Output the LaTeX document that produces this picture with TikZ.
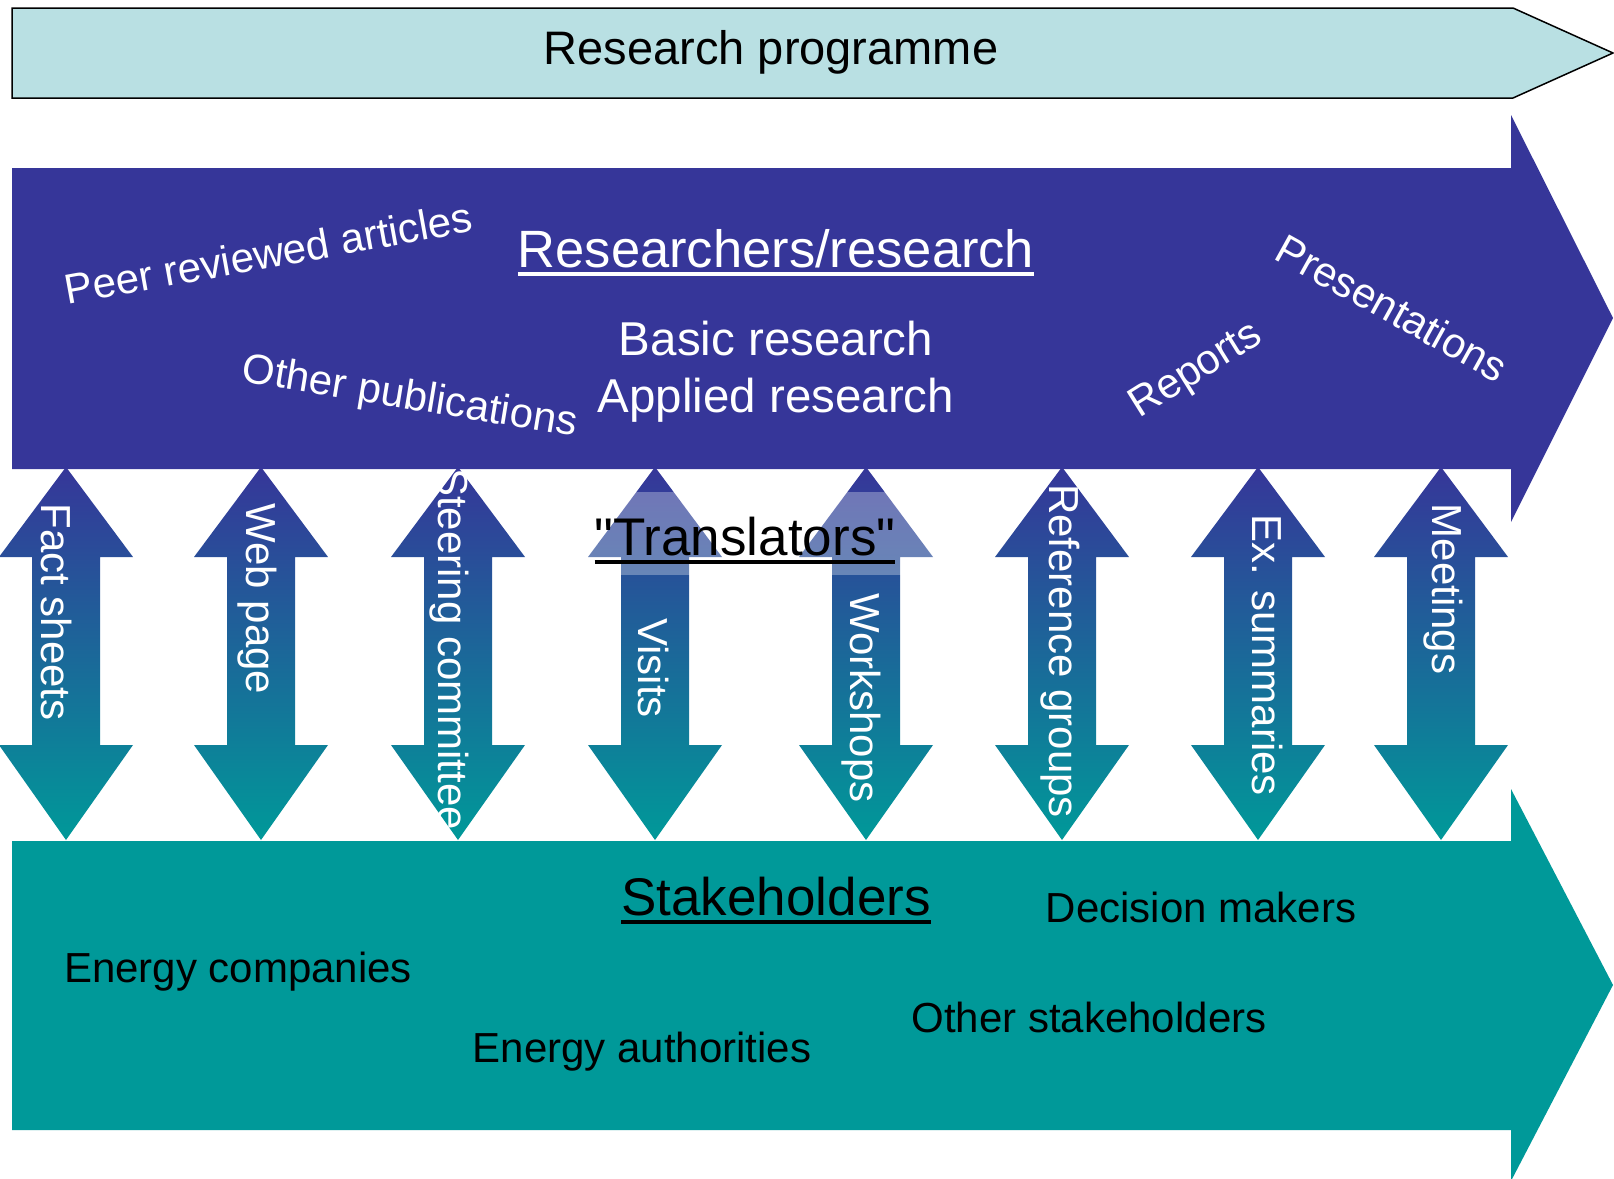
\documentclass[tikz,border=0pt]{standalone}
\usepackage{fontspec}
\setmainfont{Liberation Sans}
\definecolor{resblue}{RGB}{54,54,153}
\definecolor{stakteal}{RGB}{0,153,153}
\definecolor{progcyan}{RGB}{185,224,227}
\newcommand{\ulinetext}[1]{\setbox0=\hbox{#1}\rlap{\vrule height -5pt depth 9pt width \wd0}\box0}

\begin{document}
\begin{tikzpicture}[x=1pt, y=1pt,
    lbl/.style={inner sep=0pt, font=\fontsize{42}{50}\selectfont},
    wlbl/.style={lbl, text=white},
    vlbl/.style={wlbl, rotate=-90, anchor=base},
    twoway/.style={top color=resblue, bottom color=stakteal}]
  \useasboundingbox (0,0) rectangle (1614,-1178);
  % Top: research programme band
  \draw[line width=1.5pt, fill=progcyan] (12,-8) -- (1513,-8) -- (1613,-53) -- (1513,-98) -- (12,-98) -- cycle;
  \node[lbl, anchor=base, font=\fontsize{47}{56}\selectfont] (prog) at (771,-64) {Research programme};
  % Researchers arrow
  \fill[resblue] (12,-168) -- (1511,-168) -- (1511,-115) -- (1613,-318) -- (1511,-522) -- (1511,-469) -- (12,-469) -- cycle;
  \node[wlbl, anchor=base, font=\fontsize{52.5}{60}\selectfont] (resr) at (776,-267) {\ulinetext{Researchers/research}};
  \node[wlbl, anchor=base, font=\fontsize{47.5}{57}\selectfont] (basic) at (776,-355) {Basic research};
  \node[wlbl, anchor=base, font=\fontsize{47.5}{57}\selectfont] (applied) at (776,-412) {Applied research};
  \node[wlbl, anchor=base, rotate=10.3] (peer) at (271,-268) {Peer reviewed articles};
  \node[wlbl, anchor=base, rotate=-9.3] (otherpub) at (408,-409) {Other publications};
  \node[wlbl, anchor=base, rotate=32] (reports) at (1202,-380) {Reports};
  \node[wlbl, anchor=base, rotate=-29] (pres) at (1385,-321) {Presentations};
  % Stakeholders arrow
  \fill[stakteal] (12,-841) -- (1511,-841) -- (1511,-789) -- (1613,-985) -- (1511,-1181) -- (1511,-1130) -- (12,-1130) -- cycle;
  \node[lbl, anchor=base, font=\fontsize{53}{62}\selectfont] (stake) at (776,-915) {\ulinetext{Stakeholders}};
  \node[lbl, anchor=base] (decis) at (1201,-922) {Decision makers};
  \node[lbl, anchor=base] (encomp) at (238,-982) {Energy companies};
  \node[lbl, anchor=base] (otherst) at (1089,-1032) {Other stakeholders};
  \node[lbl, anchor=base] (enauth) at (642,-1062) {Energy authorities};
  % two-way arrows between the bands
  \foreach \cx in {66,261,458,655,866,1062,1258,1441}
    \shade[twoway] (\cx,-467) -- ++(67,-90) -- ++(-33,0) -- ++(0,-188) -- ++(33,0) -- (\cx,-840)
      -- ++(-67,95) -- ++(33,0) -- ++(0,188) -- ++(-33,0) -- cycle;
  % translators patch
  \fill[white, fill opacity=0.3] (553,-492) rectangle (937,-575);
  \node[lbl, anchor=base, font=\fontsize{53}{62}\selectfont] (transl) at (745,-555) {\ulinetext{\textquotedbl Translators\textquotedbl}};
  % labels on the arrows
  \node[vlbl] (fact) at (41,-612) {Fact sheets};
  \node[vlbl] (web) at (246,-599) {Web page};
  \node[vlbl] (steer) at (438,-649) {Steering committee};
  \node[vlbl] (visits) at (638,-668) {Visits};
  \node[vlbl] (wshop) at (850,-698) {Workshops};
  \node[vlbl] (refgr) at (1049,-651) {Reference groups};
  \node[vlbl] (exsum) at (1252,-655) {Ex. summaries};
  \node[vlbl] (meet) at (1432,-589) {Meetings};
\end{tikzpicture}
\end{document}
